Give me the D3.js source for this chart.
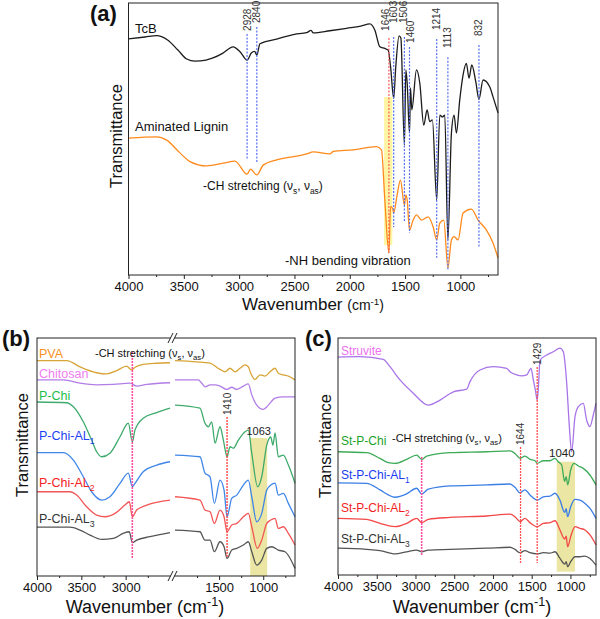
<!DOCTYPE html>
<html>
<head>
<meta charset="utf-8">
<script src="https://cdn.jsdelivr.net/npm/d3@7/dist/d3.min.js"></script>
<style>
  body { margin: 0; background: #fff; }
  text { font-family: Arial, "Liberation Sans", sans-serif; }
</style>
</head>
<body>
<svg id="chart" width="600" height="619"></svg>
<script>
// ---- data: [wavenumber (cm-1), transmittance (a.u., offset)] ----
// panel (a)
let tcb = [[4000,86.8],[3850,87.5],[3745,88.0],[3650,86.5],[3553,82.7],[3474,79.4],[3399,78.6],[3300,79.0],
  [3236,79.8],[3150,81.5],[3055,83.9],[2990,82.0],[2928,79.0],[2890,81.6],[2860,82.2],[2840,80.8],[2812,85.0],
  [2661,86.7],[2500,88.5],[2390,89.1],[2350,89.9],[2330,89.0],[2180,89.8],[2029,90.7],[1900,91.5],[1818,92.3],
  [1773,90.0],[1728,83.9],[1683,83.3],[1653,82.7],[1631,76.6],[1603,65.0],[1584,76.6],[1554,87.9],[1538,87.1],
  [1506,47.8],[1493,75.4],[1481,70.6],[1460,52.2],[1451,68.8],[1439,60.7],[1397,75.4],[1367,70.6],[1331,55.1],
  [1301,60.7],[1277,56.4],[1253,57.0],[1214,27.6],[1186,58.8],[1163,58.1],[1141,58.8],[1113,12.9],[1081,52.2],
  [1057,58.8],[1036,52.2],[1006,64.3],[976,73.5],[946,77.8],[922,72.4],[897,77.2],[861,71.1],[832,64.6],
  [795,71.7],[735,69.2],[705,65.5],[660,59.6]]
let lignin = [[4000,50.3],[3745,50.8],[3655,49.6],[3535,44.9],[3444,41.7],[3294,40.1],[3143,41.1],[3038,41.9],
  [2928,37.1],[2896,38.9],[2840,36.8],[2782,40.4],[2661,42.3],[2390,44.5],[2330,45.3],[2180,44.5],[2150,45.4],
  [1969,46.0],[1758,47.2],[1713,46.0],[1683,27.6],[1646,8.1],[1631,25.1],[1613,24.5],[1603,22.8],[1572,29.4],
  [1542,34.9],[1506,25.7],[1493,29.4],[1481,27.6],[1460,16.5],[1427,20.2],[1397,22.1],[1352,20.2],[1292,21.4],
  [1247,17.8],[1214,12.9],[1186,19.1],[1150,20.2],[1113,2.6],[1081,12.9],[1057,14.1],[1021,12.9],[976,22.8],
  [900,24.2],[840,20.2],[764,16.5],[705,11.8],[660,6.3]]
let peaksA = [2928, 2840, 1646, 1603, 1506, 1460, 1214, 1113, 832]

// panel (b)
let pva = [[4000,90.5],[3665,90.5],[3515,87.9],[3327,85.4],[3214,84.9],[3101,86.3],[2989,88.2],[2935,86.6],
  [2895,87.7],[2802,88.9],[2650,89.4],[2500,89.6],
  [2000,90.5],[1754,90.0],[1603,89.4],[1490,86.8],[1433,85.8],[1376,87.3],[1320,85.8],[1263,87.3],[1206,88.7],
  [1169,87.9],[1142,85.2],[1093,82.6],[1036,84.5],[980,84.0],[923,85.8],[866,87.3],[829,85.2],[772,84.5],
  [715,84.0],[640,82.4]]
let chitosan = [[4000,82.4],[3703,82.4],[3515,81.0],[3327,80.3],[3140,80.5],[2952,81.0],[2876,79.8],[2763,80.5],
  [2500,81.2],
  [2000,82.4],[1736,82.4],[1697,81.0],[1660,79.5],[1603,80.3],[1546,80.3],[1490,79.8],[1414,78.4],[1357,79.3],
  [1300,78.4],[1225,79.8],[1169,80.7],[1130,76.1],[1074,71.8],[999,70.0],[942,71.8],[866,74.7],[772,75.3],[640,75.3]]
let pChi = [[4000,73.1],[3665,72.8],[3590,71.1],[3478,64.8],[3384,57.1],[3327,52.2],[3270,50.1],[3177,51.6],
  [3064,58.5],[2970,64.2],[2925,56.4],[2895,61.3],[2802,66.3],[2650,68.6],[2500,70.5],
  [2000,71.8],[1717,70.5],[1660,64.2],[1622,62.7],[1584,64.8],[1546,55.8],[1490,62.7],[1452,57.1],[1410,50.1],
  [1376,54.3],[1339,53.7],[1282,57.1],[1206,60.6],[1169,61.3],[1130,51.6],[1063,37.5],[1017,41.7],[960,55.0],
  [915,58.4],[890,55.0],[866,60.1],[829,50.1],[772,50.8],[715,46.6],[640,39.0]]
let pChiAL1 = [[4000,51.8],[3703,51.8],[3590,48.7],[3478,41.7],[3384,35.4],[3270,31.9],[3177,33.3],[3064,38.9],
  [2970,43.2],[2925,37.5],[2895,38.9],[2802,43.8],[2650,46.6],[2500,48.0],
  [2000,50.8],[1717,50.1],[1660,43.2],[1603,41.7],[1554,30.5],[1490,40.3],[1444,36.1],[1410,24.9],[1357,32.6],
  [1300,34.0],[1225,38.2],[1169,40.3],[1130,33.3],[1074,22.8],[1017,26.3],[960,36.1],[915,38.2],[866,39.0],
  [829,34.0],[772,34.7],[715,30.5],[640,24.9]]
let pChiAL2 = [[4000,35.4],[3628,35.4],[3553,34.0],[3440,29.1],[3327,25.6],[3233,24.9],[3120,26.3],[3008,29.8],
  [2959,31.2],[2925,24.9],[2876,27.7],[2763,29.8],[2500,31.9],
  [2000,33.3],[1717,31.9],[1660,27.7],[1603,27.0],[1554,22.1],[1490,27.7],[1444,24.9],[1410,18.6],[1357,21.4],
  [1300,22.1],[1225,24.9],[1169,26.3],[1130,20.7],[1067,11.6],[1017,15.1],[960,22.1],[915,23.5],[866,24.2],
  [829,20.0],[772,20.7],[715,17.9],[640,13.0]]
let pChiAL3 = [[4000,20.5],[3628,20.5],[3515,19.3],[3402,17.2],[3270,15.4],[3140,15.8],[3027,17.9],[2959,18.6],
  [2925,14.0],[2876,15.1],[2726,16.5],[2500,18.2],
  [2000,19.3],[1717,18.6],[1660,15.1],[1603,15.1],[1554,10.2],[1490,14.4],[1444,12.3],[1410,7.4],[1357,10.9],
  [1300,11.6],[1225,13.0],[1169,14.4],[1130,10.2],[1074,4.6],[1017,6.7],[960,11.6],[904,12.3],[829,10.9],
  [753,10.2],[640,3.2]]

// panel (c)
let struvite = [[4000,91.9],[3716,92.1],[3415,91.0],[3329,87.9],[3200,82.3],[3028,76.7],[2835,71.7],[2683,73.8],
  [2511,77.3],[2339,78.4],[2296,81.6],[2167,86.5],[1995,87.9],[1823,87.2],[1780,85.8],[1694,84.4],[1629,84.0],
  [1565,84.4],[1509,87.2],[1479,82.3],[1452,78.0],[1429,73.8],[1412,80.0],[1393,90.7],[1307,92.8],[1221,94.2],
  [1135,95.7],[1092,94.2],[1048,80.9],[1014,62.6],[984,52.0],[941,66.8],[898,71.0],[834,72.4],[791,65.4],
  [748,62.6],[705,67.5],[670,72.4]]
let stPChi = [[4000,52.0],[3630,51.6],[3458,49.2],[3351,47.4],[3264,47.1],[3114,48.8],[2985,50.6],[2920,48.8],
  [2855,50.2],[2554,51.6],[2081,52.0],[1780,52.4],[1716,51.3],[1651,49.2],[1587,50.2],[1522,48.8],[1457,48.2],
  [1429,47.1],[1350,48.2],[1264,48.2],[1199,49.2],[1157,47.8],[1113,46.4],[1075,39.5],[1055,41.5],[1035,38.0],
  [997,44.3],[954,47.1],[898,46.0],[834,45.0],[748,42.2],[670,38.0]]
let stPChiAL1 = [[4000,38.9],[3630,38.7],[3458,35.9],[3351,33.8],[3264,32.8],[3114,34.2],[2985,36.6],[2920,34.2],
  [2835,36.2],[2554,37.6],[2081,38.0],[1780,38.4],[1716,37.0],[1651,34.7],[1587,35.9],[1522,33.8],[1429,31.6],
  [1350,33.0],[1264,33.3],[1199,34.5],[1135,31.6],[1075,26.4],[1055,28.0],[1036,24.6],[997,28.8],[941,31.9],
  [877,31.6],[812,30.2],[748,28.1],[670,23.9]]
let stPChiAL2 = [[4000,23.9],[3630,23.5],[3458,21.8],[3264,20.4],[3114,21.8],[2985,23.9],[2920,22.1],[2835,23.5],
  [2554,24.3],[2081,24.9],[1780,25.7],[1716,24.6],[1651,22.5],[1587,23.9],[1522,22.1],[1429,20.4],[1350,21.8],
  [1264,22.1],[1199,22.9],[1135,19.0],[1075,15.2],[1055,16.4],[1036,11.9],[997,16.2],[941,20.4],[877,19.7],
  [812,19.0],[748,16.9],[670,12.7]]
let stPChiAL3 = [[4000,11.3],[3630,10.8],[3458,10.3],[3264,8.9],[3114,9.8],[2985,10.5],[2920,9.8],[2835,10.5],
  [2554,10.8],[2081,11.3],[1780,11.7],[1716,10.8],[1651,9.4],[1587,10.3],[1522,9.4],[1429,8.9],[1350,9.4],
  [1264,9.2],[1199,9.8],[1135,7.0],[1075,4.6],[1055,5.6],[1036,3.5],[997,5.6],[941,7.7],[877,7.7],[812,8.0],
  [748,7.0],[670,4.2]]

let ticksMajorA = [4000, 3500, 3000, 2500, 2000, 1500, 1000]
let ticksMinorA = [3750, 3250, 2750, 2250, 1750, 1250, 750]
let ticksMajorBL = [4000, 3500, 3000]
let ticksMinorBL = [3750, 3250, 2750]
let ticksMajorBR = [1500, 1000]
let ticksMinorBR = [1750, 1250, 750]

let svg = d3.select("#chart")
let font = 'Arial, "Liberation Sans", sans-serif'

// text with sub/superscripts: parts = ["txt", ["s","sub"], ["-1","sup"], ["(cm","n",14]]
let rich = (g, x, y, size, parts, fill, anchor) => {
  let t = g.append("text").attr("x", x).attr("y", y).attr("font-size", size)
           .attr("fill", fill || "#111").attr("text-anchor", anchor || "start")
  let shift = 0
  parts.forEach(p => {
    let s = typeof p === "string" ? p : p[0]
    let kind = typeof p === "string" ? "n" : p[1]
    let sz = (typeof p !== "string" && p[2]) ? p[2] : size
    let target = kind === "sub" ? sz * 0.3 : kind === "sup" ? -sz * 0.38 : 0
    let sp = t.append("tspan").text(s).attr("dy", target - shift)
    if (kind !== "n") sp.attr("font-size", sz * 0.7)
    else if (sz !== size) sp.attr("font-size", sz)
    shift = target
  })
  return t
}

let lineGen = (x, y) => d3.line().x(d => x(d[0])).y(d => y(d[1])).curve(d3.curveMonotoneX)

let drawCurve = (g, data, x, y, color) => {
  g.append("path").datum(data).attr("d", lineGen(x, y)).attr("fill", "none")
   .attr("stroke", color).attr("stroke-width", 1.3).attr("stroke-linejoin", "round")
}

let vline = (g, x, y, w, v0, v1, color, dash, width) => {
  g.append("line").attr("x1", x(w)).attr("x2", x(w)).attr("y1", y(v0)).attr("y2", y(v1))
   .attr("stroke", color).attr("stroke-width", width || 1.2).attr("stroke-dasharray", dash || "2,1.5")
}

// rotated peak label whose lower end sits at transmittance v
let peakLabel = (g, x, y, w, v, txt, dx) => {
  g.append("text").attr("transform", `translate(${x(w) + (dx || 0)},${y(v) - 2}) rotate(-90)`)
   .attr("dy", "0.35em").attr("font-size", 10).attr("fill", "#333").text(txt)
}

let bottomAxis = (g, x, yPos, major, minor, labels) => {
  let a = g.append("g").attr("transform", `translate(0,${yPos})`)
           .call(d3.axisBottom(x).tickValues(major).tickSize(4).tickPadding(2.5)
                 .tickFormat(labels ? d3.format("d") : ""))
  a.select(".domain").remove()
  a.selectAll("text").attr("font-size", 13).attr("fill", "#111").attr("font-family", font)
  a.selectAll("line").attr("stroke", "#222")
  let m = g.append("g").attr("transform", `translate(0,${yPos})`)
           .call(d3.axisBottom(x).tickValues(minor).tickSize(2).tickFormat(""))
  m.select(".domain").remove()
  m.selectAll("line").attr("stroke", "#222")
}

let frame = (g, p) => {
  g.append("rect").attr("x", p.l).attr("y", p.t).attr("width", p.r - p.l).attr("height", p.b - p.t)
   .attr("fill", "none").attr("stroke", "#222").attr("stroke-width", 1)
}

let yTitle = (g, x, y) => {
  g.append("text").attr("transform", `translate(${x},${y}) rotate(-90)`).attr("text-anchor", "middle")
   .attr("dy", "0.35em").attr("font-size", 16.5).attr("fill", "#111").text("Transmittance")
}

// ================= panel (a) =================
let A = {l: 128.5, r: 498, t: 3, b: 275}
let xA = d3.scaleLinear().domain([4000, 660]).range([A.l, A.r])
let yA = d3.scaleLinear().domain([0, 100]).range([A.b, A.t])
let gA = svg.append("g")

gA.append("rect").attr("x", xA(1690)).attr("width", xA(1615) - xA(1690))
  .attr("y", yA(65.4)).attr("height", yA(11) - yA(65.4)).attr("fill", "#fff59a").attr("opacity", 0.9)
drawCurve(gA, tcb, xA, yA, "#1c1c1c")
drawCurve(gA, lignin, xA, yA, "#ff8a1c")

// line top, line bottom, label end, label x shift
let linesA = {2928: [88.6, 42.3, 89.0, 0], 2840: [91.2, 41.5, 91.9, 0], 1646: [87.1, 8.1, 89.0, -3],
  1603: [87.5, 17.6, 91.9, -0.5], 1506: [87.5, 19.5, 91.9, -0.5], 1460: [83.8, 15.4, 84.6, 1],
  1214: [86.8, 6.3, 89.3, 0], 1113: [80.1, 1.8, 82.7, 0], 832: [84.6, 9.9, 87.1, 0]}
peaksA.forEach(w => {
  let [v0, v1, vl, dx] = linesA[w]
  vline(gA, xA, yA, w, v0, v1, w === 1646 ? "#ff5a5a" : "#5570f0")
  peakLabel(gA, xA, yA, w, vl, String(w), dx)
})
frame(gA, A)
bottomAxis(gA, xA, A.b, ticksMajorA, ticksMinorA, true)

gA.append("text").attr("x", 90).attr("y", 21).attr("font-size", 22).attr("font-weight", "bold")
  .attr("fill", "#111").text("(a)")
yTitle(gA, 116, 136)
rich(gA, 313, 310, 17, ["Wavenumber ", ["(cm", "n", 14], ["-1", "sup", 14], [")", "n", 14]], "#111", "middle")
rich(gA, 135, 33, 13, ["TcB"])
rich(gA, 135, 131, 13, ["Aminated Lignin"])
rich(gA, 203, 190, 12, ["-CH stretching (\u03bd", ["s", "sub"], ", \u03bd", ["as", "sub"], ")"])
rich(gA, 285, 265, 13, ["-NH bending vibration"])

// ================= panel (b) =================
let B = {l: 37, r: 295, t: 338, b: 576}
let xBL = d3.scaleLinear().domain([4000, 2500]).range([37, 170])
let xBR = d3.scaleLinear().domain([2000, 640]).range([175, 295])
let yB = d3.scaleLinear().domain([0, 100]).range([B.b, B.t])
let gB = svg.append("g")

gB.append("rect").attr("x", xBR(1148)).attr("width", xBR(955) - xBR(1148))
  .attr("y", yB(58)).attr("height", yB(0) - yB(58)).attr("fill", "#e8e293").attr("opacity", 0.85)

let seriesB = [
  [pva, "#d8a436", "#f7921e", "PVA", null, 358],
  [chitosan, "#b27de6", "#ef7ef0", "Chitosan", null, 378],
  [pChi, "#3eaa6c", "#22c04a", "P-Chi", null, 400],
  [pChiAL1, "#3f86e8", "#1d3ff5", "P-Chi-AL", "1", 440],
  [pChiAL2, "#f25656", "#f52222", "P-Chi-AL", "2", 487],
  [pChiAL3, "#555555", "#333333", "P-Chi-AL", "3", 523]
]
seriesB.forEach(([data, col, lab, name, sub, ly]) => {
  drawCurve(gB, data.filter(d => d[0] >= 2500), xBL, yB, col)
  drawCurve(gB, data.filter(d => d[0] <= 2000), xBR, yB, col)
  rich(gB, 39, ly, 12.5, sub ? [name, [sub, "sub"]] : [name], lab)
})

vline(gB, xBL, yB, 2925, 94.1, 7.6, "#ff4fa0", "2,1", 1.6)
vline(gB, xBR, yB, 1410, 66.8, 7.6, "#ff3a3a", "2,1", 1.3)
peakLabel(gB, xBR, yB, 1410, 66.8, "1410")
gB.append("text").attr("x", (xBR(1148) + xBR(955)) / 2).attr("y", yB(59.2)).attr("text-anchor", "middle")
  .attr("font-size", 11).attr("fill", "#222").text("1063")

frame(gB, B)
bottomAxis(gB, xBL, B.b, ticksMajorBL, ticksMinorBL, true)
bottomAxis(gB, xBR, B.b, ticksMajorBR, ticksMinorBR, true)
// axis break marks
;[B.t, B.b].forEach(yy => {
  gB.append("rect").attr("x", 170.5).attr("y", yy - 1).attr("width", 4).attr("height", 2).attr("fill", "#fff")
  ;[170.5, 174.5].forEach(xx => {
    gB.append("line").attr("x1", xx - 2.5).attr("y1", yy + 5).attr("x2", xx + 2.5).attr("y2", yy - 5)
      .attr("stroke", "#222").attr("stroke-width", 1)
  })
})

gB.append("text").attr("x", 2).attr("y", 346).attr("font-size", 22).attr("font-weight", "bold")
  .attr("fill", "#111").text("(b)")
yTitle(gB, 22, 445)
rich(gB, 145, 613, 18, ["Wavenumber (cm", ["-1", "sup"], ")"], "#111", "middle")
rich(gB, 95, 357, 11, ["-CH stretching (\u03bd", ["s", "sub"], ", \u03bd", ["as", "sub"], ")"])

// ================= panel (c) =================
let C = {l: 338, r: 596, t: 338, b: 575}
let xC = d3.scaleLinear().domain([4000, 670]).range([C.l, C.r])
let yC = d3.scaleLinear().domain([0, 100]).range([C.b, C.t])
let gC = svg.append("g")

gC.append("rect").attr("x", xC(1177)).attr("width", xC(941) - xC(1177))
  .attr("y", yC(47.8)).attr("height", yC(1.4) - yC(47.8)).attr("fill", "#e8e293").attr("opacity", 0.85)

let seriesC = [
  [struvite, "#a874e8", "#ee72ee", "Struvite", null, 355],
  [stPChi, "#3daa58", "#1aa32a", "St-P-Chi", null, 445],
  [stPChiAL1, "#3a7ee6", "#1a3cf0", "St-P-Chi-AL", "1", 479],
  [stPChiAL2, "#f24848", "#f21e1e", "St-P-Chi-AL", "2", 512],
  [stPChiAL3, "#555555", "#333333", "St-P-Chi-AL", "3", 543]
]
seriesC.forEach(([data, col, lab, name, sub, ly]) => {
  drawCurve(gC, data, xC, yC, col)
  rich(gC, 341, ly, 12, sub ? [name, [sub, "sub"]] : [name], lab)
})

vline(gC, xC, yC, 2920, 49.8, 8.4, "#ff4fa0", "2,1", 1.6)
vline(gC, xC, yC, 1644, 54.0, 5.1, "#ff5050", "2,1", 1.3)
vline(gC, xC, yC, 1429, 87.8, 5.1, "#ff5050", "2,1", 1.3)
peakLabel(gC, xC, yC, 1644, 54.0, "1644")
peakLabel(gC, xC, yC, 1429, 87.8, "1429")
gC.append("text").attr("x", (xC(1177) + xC(941)) / 2 - 4).attr("y", yC(49.8)).attr("text-anchor", "middle")
  .attr("font-size", 11.5).attr("fill", "#222").text("1040")

frame(gC, C)
bottomAxis(gC, xC, C.b, ticksMajorA, ticksMinorA, true)

gC.append("text").attr("x", 305).attr("y", 346).attr("font-size", 22).attr("font-weight", "bold")
  .attr("fill", "#111").text("(c)")
yTitle(gC, 325, 446)
rich(gC, 472, 613, 18, ["Wavenumber (cm", ["-1", "sup"], ")"], "#111", "middle")
rich(gC, 392, 442, 11, ["-CH stretching (\u03bd", ["s", "sub"], ", \u03bd", ["as", "sub"], ")"])
</script>
</body>
</html>
